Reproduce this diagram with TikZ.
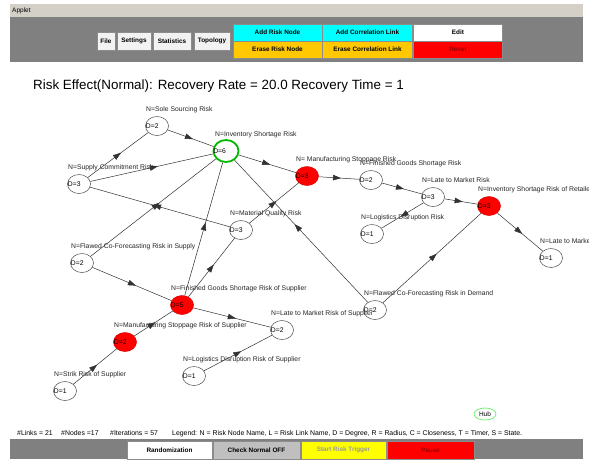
\documentclass[tikz,border=0pt]{standalone}
\usepackage{fontspec}
\setmainfont{Liberation Sans}
\usetikzlibrary{arrows.meta, calc, shapes.geometric, decorations.markings}
\definecolor{chrome}{RGB}{212,208,200}
\definecolor{panel}{RGB}{128,128,128}
\definecolor{addbtn}{RGB}{0,255,255}
\definecolor{erasebtn}{RGB}{255,200,0}
\definecolor{riskred}{RGB}{255,0,0}
\definecolor{darkred}{RGB}{150,0,0}
\definecolor{trigger}{RGB}{255,255,0}
\definecolor{hubgreen}{RGB}{0,185,0}
\definecolor{hubring}{RGB}{120,240,120}
\definecolor{wire}{RGB}{50,50,50}

% one risk node: name, position, style, degree, caption
\newcommand{\risk}[5]{%
  \node[#3] (#1) at (#2) {};
  \node[dtext] (#1-d) at (#1.west) {D=#4};
  \node[ntext] (#1-n) at ($(#1.center)+(-11,-14.5)$) {N=#5};
}

\begin{document}
\begin{tikzpicture}[x=1pt, y=-1pt,
    rk/.style={ellipse, draw=black!70, line width=0.5pt, fill=white,
               minimum width=23pt, minimum height=19pt, inner sep=0pt},
    redrisk/.style={rk, fill=riskred, draw=riskred!85!black},
    hubrisk/.style={rk, draw=hubgreen, line width=1.8pt,
                    minimum width=25pt, minimum height=22pt},
    dtext/.style={anchor=west, inner sep=0.5pt, font=\fontsize{6.8}{7}\selectfont},
    ntext/.style={anchor=base west, inner sep=0pt, text=black!85,
                  font=\fontsize{6.8}{7}\selectfont},
    lnk/.style={draw=wire, line width=0.5pt, postaction={decorate},
                decoration={markings, mark=at position 0.55 with
                {\arrow{Triangle[length=8pt, width=5.5pt]}}}},
    btn/.style={rectangle, draw=black!45, fill=#1, inner sep=0pt,
                minimum height=17pt, font=\bfseries\fontsize{6.4}{7}\selectfont},
    tool/.style={btn=black!5, minimum height=18pt},
    stat/.style={anchor=base west, inner sep=0pt, font=\fontsize{6.9}{7}\selectfont}
]
\useasboundingbox (0,0) rectangle (589,459);
\fill[white] (0,0) rectangle (589,459);

% window chrome
\fill[chrome] (10,4) rectangle (583,17);
\node[anchor=west, inner sep=0pt, font=\fontsize{6.5}{7}\selectfont] (applet) at (12,10.5) {Applet};
\fill[panel] (10,17) rectangle (583,62);
\node[tool, minimum width=18pt] (file) at (106,41) {File};
\node[tool, minimum width=34pt] (settings) at (134,41) {Settings};
\node[tool, minimum width=38pt] (stats) at (172,41) {Statistics};
\node[tool, minimum width=36pt] (topo) at (212,41) {Topology};
\node[btn=addbtn, minimum width=89pt] (addnode) at (277.5,32.5) {Add Risk Node};
\node[btn=addbtn, minimum width=90pt] (addlink) at (367.5,32.5) {Add Correlation Link};
\node[btn=white, minimum width=89pt] (edit) at (458,32.5) {Edit};
\node[btn=erasebtn, minimum width=89pt] (erasenode) at (277.5,49.5) {Erase Risk Node};
\node[btn=erasebtn, minimum width=90pt] (eraselink) at (367.5,49.5) {Erase Correlation Link};
\node[btn=riskred, minimum width=89pt, text=darkred] (reset) at (458,49.5) {Reset};

% title
\node[anchor=base west, inner sep=0pt, font=\fontsize{13.4}{16}\selectfont] (title) at (33,89)
    {Risk Effect(Normal): Recovery Rate = 20.0 Recovery Time = 1};

% risk nodes
\risk{ss}{157,126}{rk}{2}{Sole Sourcing Risk}
\risk{inv}{226,151}{hubrisk}{6}{Inventory Shortage Risk}
\risk{sc}{79,184}{rk}{3}{Supply Commitment Risk}
\risk{mq}{241,230}{rk}{3}{Material Quality Risk}
\risk{fcs}{82,263}{rk}{2}{Flawed Co-Forecasting Risk in Supply}
\risk{ms}{307,176}{redrisk}{3}{ Manufacturing Stoppage Risk}
\risk{fgs}{371,180}{rk}{2}{Finished Goods Shortage Risk}
\risk{ltm}{433,197}{rk}{3}{Late to Market Risk}
\risk{ld}{372,234}{rk}{1}{Logistics Disruption Risk}
\risk{isr}{489,206}{redrisk}{3}{Inventory Shortage Risk of Retailer}
\risk{ltr}{551,258}{rk}{1}{Late to Market Risk of Retailer}
\risk{fcd}{375,310}{rk}{2}{Flawed Co-Forecasting Risk in Demand}
\risk{fgss}{182,305}{redrisk}{5}{Finished Goods Shortage Risk of Supplier}
\risk{ltms}{282,330}{rk}{2}{Late to Market Risk of Supplier}
\risk{lds}{194,376}{rk}{1}{Logistics Disruption Risk of Supplier}
\risk{mss}{125,342}{redrisk}{2}{Manufacturing Stoppage Risk of Supplier}
\risk{srs}{65,391}{rk}{1}{Strik Risk of Supplier}

% correlation links
\draw[lnk] (sc) -- (ss); \draw[lnk] (ss) -- (inv); \draw[lnk] (sc) -- (inv);
\draw[lnk] (inv) -- (ms); \draw[lnk] (mq) -- (sc); \draw[lnk] (fcs) -- (inv);
\draw[lnk] (fgss) -- (inv); \draw[lnk] (fcd) -- (inv); \draw[lnk] (mq) -- (ms);
\draw[lnk] (fgss) -- (mq); \draw[lnk] (fcs) -- (fgss); \draw[lnk] (mss) -- (fgss);
\draw[lnk] (srs) -- (mss); \draw[lnk] (fgss) -- (ltms); \draw[lnk] (lds) -- (ltms);
\draw[lnk] (ms) -- (fgs); \draw[lnk] (fgs) -- (ltm); \draw[lnk] (ltm) -- (ld);
\draw[lnk] (ltm) -- (isr); \draw[lnk] (fcd) -- (isr); \draw[lnk] (isr) -- (ltr);

% hub key and status line
\node[ellipse, draw=hubring, line width=0.8pt, minimum width=22pt, minimum height=12pt,
      inner sep=0pt, font=\fontsize{6.5}{7}\selectfont] (hub) at (485,414) {Hub};
\node[stat] (links) at (17,435) {\#Links = 21};
\node[stat] (nodes) at (61,435) {\#Nodes =17};
\node[stat] (iters) at (110,435) {\#Iterations = 57};
\node[stat] (legend) at (172,435) {Legend: N = Risk Node Name, L = Risk Link Name, D = Degree, R = Radius, C = Closeness, T = Timer, S = State.};

% bottom controls
\fill[panel] (10,439) rectangle (583,459);
\node[btn=white, minimum width=85pt, minimum height=18pt] (random) at (169.5,450) {Randomization};
\node[btn=black!25, minimum width=87pt, minimum height=18pt] (check) at (256.5,450) {Check Normal OFF};
\node[btn=trigger, minimum width=85pt, minimum height=18pt, text=black!40] (trig) at (343.5,450) {Start Risk Trigger};
\node[btn=riskred, minimum width=87pt, minimum height=18pt, text=darkred] (pause) at (430.5,450) {Pause};
\end{tikzpicture}
\end{document}
